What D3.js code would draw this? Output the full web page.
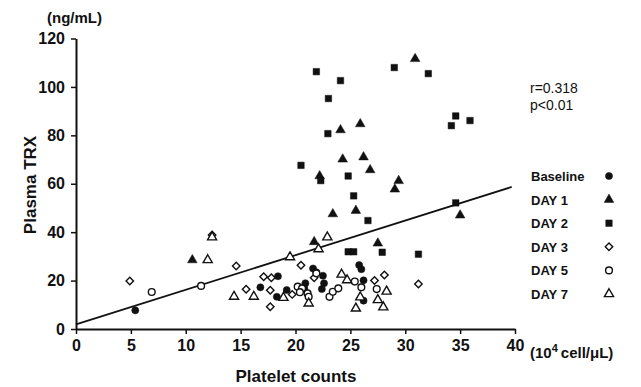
<!DOCTYPE html>
<html>
<head>
<meta charset="utf-8">
<script src="https://cdn.jsdelivr.net/npm/d3@7"></script>
<style>
  body { margin: 0; background: #fff; }
  svg { font-family: "Liberation Sans", Arial, Helvetica, sans-serif; }
</style>
</head>
<body>
<svg width="641" height="387"></svg>
<script>
// data: [platelets (10^4/uL), TRX (ng/mL)]
const baseline = [[5.4,7.7],[16.8,17.2],[18.4,21.8],[18.3,13.3],[19.2,16.1],[20.9,18.9],[20.8,16.8],[21.6,25],[21.9,23.4],[22.5,22],[22.6,18.9],[22.4,16.5],[25.8,26.4],[26.0,24.7],[26.2,20.1],[26.2,11.7]];
const day1 = [[10.6,28.5],[21.7,36],[22.2,63.2],[23.4,47.5],[24.1,82.2],[24.3,70.1],[25.5,48.9],[25.9,84.7],[26.2,71],[26.8,65.7],[27.5,35.4],[29.05,57.7],[29.4,61.2],[30.9,111.6],[35.0,47]];
const day2 = [[20.5,67.6],[21.9,106.3],[22.3,61.3],[22.95,80.7],[23.0,95.2],[24.1,102.6],[24.8,63.2],[25.3,55],[26.6,44.8],[24.8,31.9],[25.3,31.9],[27.9,31.7],[29.0,108],[31.2,30.9],[32.1,105.5],[34.2,84],[34.6,88],[35.9,86.1],[34.6,52.1]];
const day3 = [[4.9,19.8],[12.4,38.8],[14.6,26],[15.5,16.4],[17.1,21.6],[17.8,21.2],[17.7,16],[17.7,9.2],[19.7,14.3],[20.5,26.3],[21.7,21.2],[27.2,20],[28.1,22.3],[31.2,18.6]];
const day5 = [[6.9,15.3],[11.4,17.8],[20.2,17.5],[20.6,16.8],[20.4,15.2],[21.1,14.7],[21.2,13.3],[21.9,23],[23.1,13.3],[23.4,15.4],[23.9,16.8],[25.4,19.6],[26.0,17.2],[27.4,16.5]];
const day7 = [[12.0,28.5],[12.4,37.9],[14.4,13.4],[16.2,13.4],[18.9,12.9],[19.5,29.7],[21.2,10.6],[22.1,33],[22.9,37.9],[24.2,22.5],[24.7,20.2],[25.9,13.1],[25.5,8.5],[27.5,12],[28.0,9],[28.3,15.5]];

const seriesNames = ["Baseline", "DAY 1", "DAY 2", "DAY 3", "DAY 5", "DAY 7"];
const seriesData = [baseline, day1, day2, day3, day5, day7];
const xTicks = [0, 5, 10, 15, 20, 25, 30, 35, 40];
const yTicks = [0, 20, 40, 60, 80, 100, 120];
const fit = { intercept: 1.9, slope: 1.43, xEnd: 39.7 };
const stats = ["r=0.318", "p<0.01"];

// marker style per series
const markers = [
  { type: d3.symbolCircle, size: 40, fill: "#111", rot: 0 },
  { type: d3.symbolTriangle, size: 40, fill: "#111", rot: 0 },
  { type: d3.symbolSquare, size: 42, fill: "#111", rot: 0 },
  { type: d3.symbolSquare, size: 28, fill: "#fff", rot: 45 },
  { type: d3.symbolCircle, size: 36, fill: "#fff", rot: 0 },
  { type: d3.symbolTriangle, size: 36, fill: "#fff", rot: 0 }
];

const svg = d3.select("svg");
const x = d3.scaleLinear().domain([0, 40]).range([76, 515]);
const y = d3.scaleLinear().domain([0, 120]).range([329, 38.5]);

// axes
const xAxis = svg.append("g").attr("transform", "translate(0,329)")
  .call(d3.axisBottom(x).tickValues(xTicks).tickSize(5).tickSizeOuter(0).tickPadding(6));
const yAxis = svg.append("g").attr("transform", "translate(76,0)")
  .call(d3.axisLeft(y).tickValues(yTicks).tickSize(5).tickSizeOuter(0).tickPadding(6));

[xAxis, yAxis].forEach(g => {
  g.attr("font-family", null).attr("font-size", null);
  g.select(".domain").attr("stroke", "#111").attr("stroke-width", 2);
  g.selectAll(".tick line").attr("stroke", "#111").attr("stroke-width", 1.5);
  g.selectAll("text").attr("fill", "#111").attr("font-size", 16).attr("font-weight", "bold");
});

// regression line
svg.append("line")
  .attr("x1", x(0)).attr("y1", y(fit.intercept))
  .attr("x2", x(fit.xEnd)).attr("y2", y(fit.intercept + fit.slope * fit.xEnd))
  .attr("stroke", "#111").attr("stroke-width", 1.8);

// points
seriesData.forEach((data, i) => {
  const m = markers[i];
  const sym = d3.symbol().type(m.type).size(m.size);
  svg.append("g").selectAll("path").data(data).enter().append("path")
    .attr("d", sym)
    .attr("transform", d => `translate(${x(d[0])},${y(d[1])}) rotate(${m.rot})`)
    .attr("fill", m.fill)
    .attr("stroke", "#111")
    .attr("stroke-width", m.fill === "#fff" ? 1.4 : 0.5);
});

// labels
svg.append("text").attr("x", 47).attr("y", 23).text("(ng/mL)")
  .attr("font-size", 15).attr("font-weight", "bold").attr("fill", "#111");

svg.append("text")
  .attr("transform", "translate(36,185) rotate(-90)")
  .attr("text-anchor", "middle")
  .attr("font-size", 17).attr("font-weight", "bold").attr("fill", "#111")
  .text("Plasma TRX");

svg.append("text").attr("x", 296).attr("y", 382).attr("text-anchor", "middle")
  .attr("font-size", 17).attr("font-weight", "bold").attr("fill", "#111")
  .text("Platelet counts");

const unit = svg.append("text").attr("x", 530).attr("y", 358)
  .attr("font-size", 15).attr("font-weight", "bold").attr("fill", "#111");
unit.append("tspan").text("(10");
unit.append("tspan").attr("dy", -6).attr("font-size", 11).text("4");
unit.append("tspan").attr("dy", 6).attr("dx", 3).text("cell/μL)");

stats.forEach((s, i) => {
  svg.append("text").attr("x", 530).attr("y", 93 + i * 17)
    .attr("font-size", 14).attr("fill", "#111").text(s);
});

// legend
const legend = svg.append("g");
seriesNames.forEach((name, i) => {
  const m = markers[i];
  const ly = 176 + i * 23.6;
  legend.append("text").attr("x", 531).attr("y", ly + 5)
    .attr("font-size", 13).attr("font-weight", "bold").attr("fill", "#111").text(name);
  legend.append("path")
    .attr("d", d3.symbol().type(m.type).size(m.size)())
    .attr("transform", `translate(609,${ly}) rotate(${m.rot})`)
    .attr("fill", m.fill).attr("stroke", "#111")
    .attr("stroke-width", m.fill === "#fff" ? 1.4 : 0.5);
});
</script>
</body>
</html>
